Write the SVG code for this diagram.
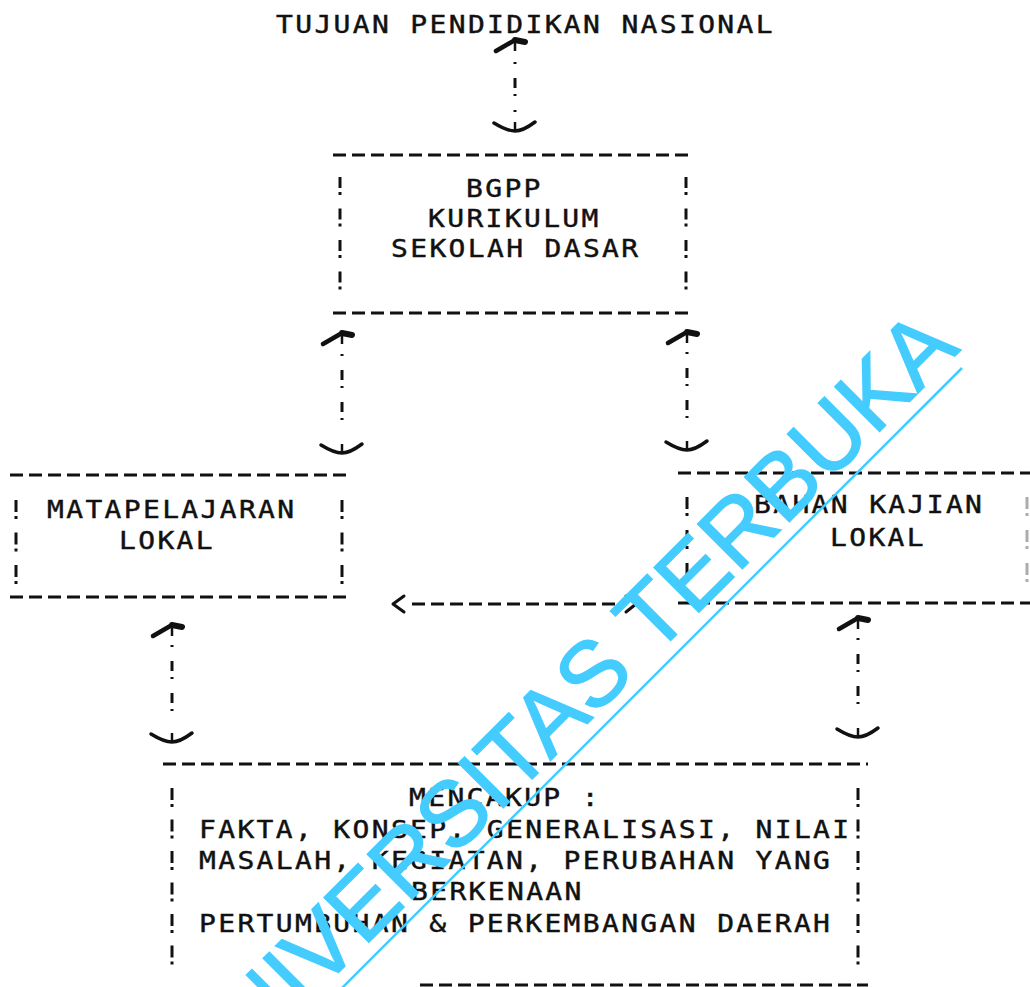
<svg xmlns="http://www.w3.org/2000/svg" xmlns:xlink="http://www.w3.org/1999/xlink" width="1030" height="987" viewBox="0 0 1030 987">
<style>
.t{font-family:"DejaVu Sans Mono","Liberation Mono",monospace;font-size:28px;letter-spacing:2.34px;fill:#111;stroke:#111;stroke-width:0.5px}
.h{fill:none;stroke:#111;stroke-width:3;stroke-dasharray:13 6}
.v{fill:none;stroke:#111;stroke-width:3;stroke-dasharray:11 4 3 13.5}
.st{fill:none;stroke:#111;stroke-width:3;stroke-dasharray:2 14 10 6}
.hd{fill:none;stroke:#111;stroke-width:4.5;stroke-linecap:round;stroke-linejoin:round}
.cv{fill:none;stroke:#111;stroke-width:3.5;stroke-linecap:round;stroke-linejoin:round}
.wm{font-family:"Liberation Sans",Arial,sans-serif;font-size:92px;fill:#44CCFF;stroke:#44CCFF;stroke-width:1.5px}
</style>
<defs>
<g id="up">
<path class="hd" d="M-19,11 L0,0"/>
<path class="hd" style="stroke-width:6" d="M0,0 L10,2"/>
<path fill="none" stroke="#111" stroke-width="2.5" d="M0,0 V11"/>
</g>
<g id="dn">
<path class="cv" d="M-21,-8 Q-8,0 0,0 Q8,0 20,-9"/>
<path fill="none" stroke="#111" stroke-width="2.5" d="M0,-1 V-9"/>
</g>
</defs>
<rect width="1030" height="987" fill="#fff"/>

<g id="tujuan">
<text class="t" transform="translate(276,33) scale(1,0.9)">TUJUAN PENDIDIKAN NASIONAL</text>
</g>

<g id="bgpp">
<path class="h" d="M333,155 H693 M333,313 H693"/>
<path class="v" d="M340,177 V297 M686,177 V297"/>
<text class="t" transform="translate(466,197) scale(1,0.9)">BGPP</text>
<text class="t" transform="translate(428,227) scale(1,0.9)">KURIKULUM</text>
<text class="t" transform="translate(391,257) scale(1,0.9)">SEKOLAH DASAR</text>
</g>

<g id="matapelajaran">
<path class="h" d="M10,475 H350 M10,597 H350"/>
<path class="v" style="stroke-dasharray:12 4 3 13.5" d="M16,500 V586 M342,500 V586"/>
<text class="t" transform="translate(47,518) scale(1,0.9)">MATAPELAJARAN</text>
<text class="t" transform="translate(119,549) scale(1,0.9)">LOKAL</text>
</g>

<g id="bahan">
<path class="h" d="M678,473 H1030 M678,603 H1030"/>
<path class="v" style="stroke-dasharray:12 4 3 14" d="M687,497 V582"/>
<path class="v" style="stroke-dasharray:12 4 3 14;opacity:.35" d="M1027,497 V582"/>
<text class="t" transform="translate(754,513) scale(1,0.9)">BAHAN KAJIAN</text>
<text class="t" transform="translate(830,546) scale(1,0.9)">LOKAL</text>
</g>

<g id="mencakup">
<path class="h" d="M163,764 H868 M420,985 H868"/>
<path class="v" style="stroke-dasharray:12 4 3 12.5" d="M172,788 V966 M858,788 V966"/>
<text class="t" transform="translate(409,806) scale(1,0.9)">MENCAKUP :</text>
<text class="t" transform="translate(199,838) scale(1,0.9)">FAKTA, KONSEP, GENERALISASI, NILAI</text>
<text class="t" transform="translate(199,869) scale(1,0.9)">MASALAH, KEGIATAN, PERUBAHAN YANG</text>
<text class="t" transform="translate(411,900) scale(1,0.9)">BERKENAAN</text>
<text class="t" transform="translate(199,932) scale(1,0.9)">PERTUMBUHAN &amp; PERKEMBANGAN DAERAH</text>
</g>

<g id="connectors">
<use xlink:href="#up" x="515" y="40"/>
<path class="st" d="M515,62 V112"/>
<use xlink:href="#dn" x="515" y="131"/>

<use xlink:href="#up" x="342" y="333"/>
<path class="st" d="M342,354 V434"/>
<use xlink:href="#dn" x="342" y="453"/>

<use xlink:href="#up" x="687" y="332"/>
<path class="st" d="M687,352 V431"/>
<use xlink:href="#dn" x="687" y="450"/>

<use xlink:href="#up" x="172" y="625"/>
<path class="st" d="M172,645 V723"/>
<use xlink:href="#dn" x="172" y="742"/>

<use xlink:href="#up" x="858" y="618"/>
<path class="st" d="M858,638 V718"/>
<use xlink:href="#dn" x="858" y="737"/>

<path class="cv" style="stroke-width:3" d="M404,596 L393,604 L404,612"/>
<path class="h" d="M412,604 H619"/>
<path class="cv" style="stroke-width:3" d="M626,596 L636,604 L626,612"/>
</g>

<g id="watermark">
<text class="wm" transform="translate(208,1103) rotate(-45)">UNIVERSITAS TERBUKA</text>
<path d="M962,368 L250,1080" stroke="#44CCFF" stroke-width="2.5"/>
</g>
</svg>
